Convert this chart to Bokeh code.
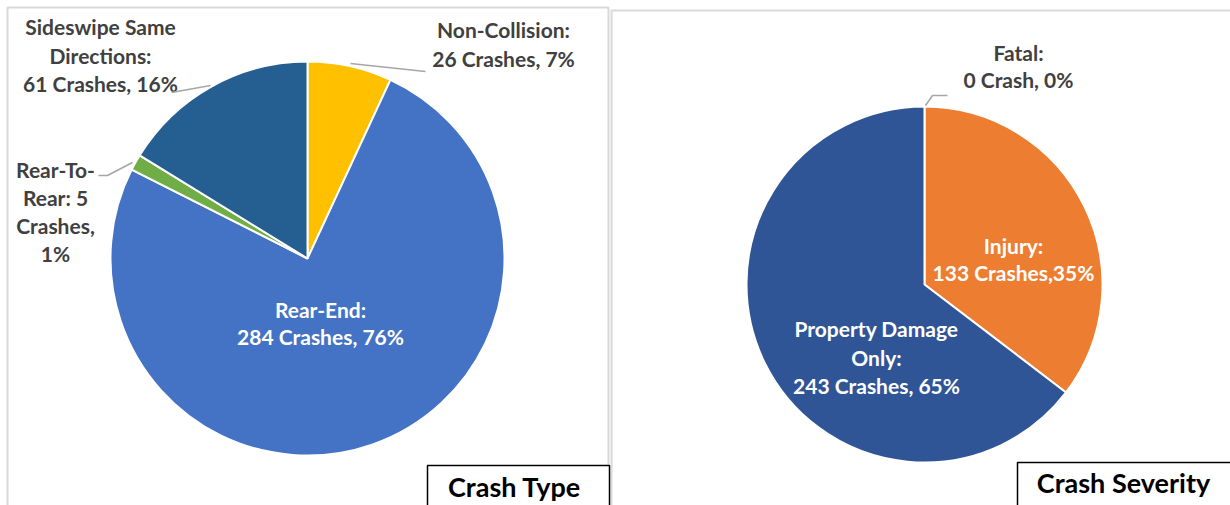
import math
from bokeh.plotting import figure
from bokeh.models import Range1d, ColumnDataSource
from bokeh.core.properties import value
from bokeh.embed import file_html
from bokeh.resources import INLINE

# ---- data ----
type_categories = ["Non-Collision", "Rear-End", "Rear-To-Rear", "Sideswipe Same Directions"]
type_counts = [26, 284, 5, 61]
type_colors = ["#FFC000", "#4472C4", "#70AD47", "#255E91"]

sev_categories = ["Fatal", "Injury", "Property Damage Only"]
sev_counts = [0, 133, 243]
sev_colors = ["#A5A5A5", "#ED7D31", "#2F5597"]

type_label_lines = [
    ["Non-Collision:", "26 Crashes, 7%"],
    ["Rear-End:", "284 Crashes, 76%"],
    ["Rear-To-", "Rear: 5", "Crashes,", "1%"],
    ["Sideswipe Same", "Directions:", "61 Crashes, 16%"],
]
sev_label_lines = [
    ["Fatal:", "0 Crash, 0%"],
    ["Injury:", "133 Crashes,35%"],
    ["Property Damage", "Only:", "243 Crashes, 65%"],
]
titles = ["Crash Type", "Crash Severity"]

FONT = "Lato"

W, H = 1230, 505
p = figure(width=W, height=H, x_range=Range1d(0, W), y_range=Range1d(-H, 0),
           output_backend="svg", toolbar_location=None, min_border=0,
           x_axis_location=None, y_axis_location=None)
p.grid.visible = False
p.outline_line_color = None
p.background_fill_color = "white"


def Y(v):
    return -v


# panel borders
p.quad(left=[7, 611], right=[608, 1245], top=[Y(7), Y(10)], bottom=[Y(530), Y(530)],
       fill_color=None, line_color="#D9D9D9", line_width=2)


def pie(cx, cy, r, counts, colors):
    total = sum(counts)
    starts, ends = [], []
    cum = 0
    for c in counts:
        starts.append(math.pi / 2 - 2 * math.pi * cum / total)
        cum += c
        ends.append(math.pi / 2 - 2 * math.pi * cum / total)
    src = ColumnDataSource(dict(start=starts, end=ends, color=colors,
                                x=[cx] * len(counts), y=[Y(cy)] * len(counts)))
    p.wedge(x="x", y="y", radius=r, start_angle="start", end_angle="end",
            direction="clock", fill_color="color", line_color="white",
            line_width=2, source=src)


pie(307, 258, 197, type_counts, type_colors)
pie(924, 284, 178, sev_counts, sev_colors)


def label(lines, cx, y0, dy, color, size="21px"):
    xs = [cx] * len(lines)
    ys = [Y(y0 + i * dy) for i in range(len(lines))]
    p.text(x=xs, y=ys, text=lines, text_align="center", text_baseline="middle",
           text_font=value(FONT), text_font_style="bold", text_font_size=size,
           text_color=color)


GRAY = "#404040"
# crash type labels
label(type_label_lines[0], 503, 29, 29, GRAY)
label(type_label_lines[1], 320, 309, 27, "white")
label(type_label_lines[2], 55, 169, 28, GRAY)
label(type_label_lines[3], 100, 26, 28.5, GRAY)
# severity labels
label(sev_label_lines[0], 1018, 52, 27, GRAY)
label(sev_label_lines[1], 1013, 245, 27, "white")
label(sev_label_lines[2], 876, 328, 28.5, "white")

# leader lines
lc = "#A6A6A6"
p.line(x=[171, 210], y=[Y(92), Y(85)], line_color=lc, line_width=1.5)
p.line(x=[350, 425], y=[Y(63), Y(71)], line_color=lc, line_width=1.5)
p.line(x=[98, 107, 132], y=[Y(175), Y(175), Y(162)], line_color=lc, line_width=1.5)
p.line(x=[925, 932, 947], y=[Y(105), Y(95), Y(95)], line_color=lc, line_width=1.5)

# title boxes
p.quad(left=[427, 1017], right=[609, 1245], top=[Y(465), Y(462)], bottom=[Y(530), Y(530)],
       fill_color="white", line_color="black", line_width=1.5)
p.text(x=[514, 1123], y=[Y(486), Y(482)], text=titles, text_align="center",
       text_baseline="middle", text_font=value(FONT), text_font_style="bold",
       text_font_size="27px", text_color="black")

open("out.html", "w").write(file_html(p, INLINE))
